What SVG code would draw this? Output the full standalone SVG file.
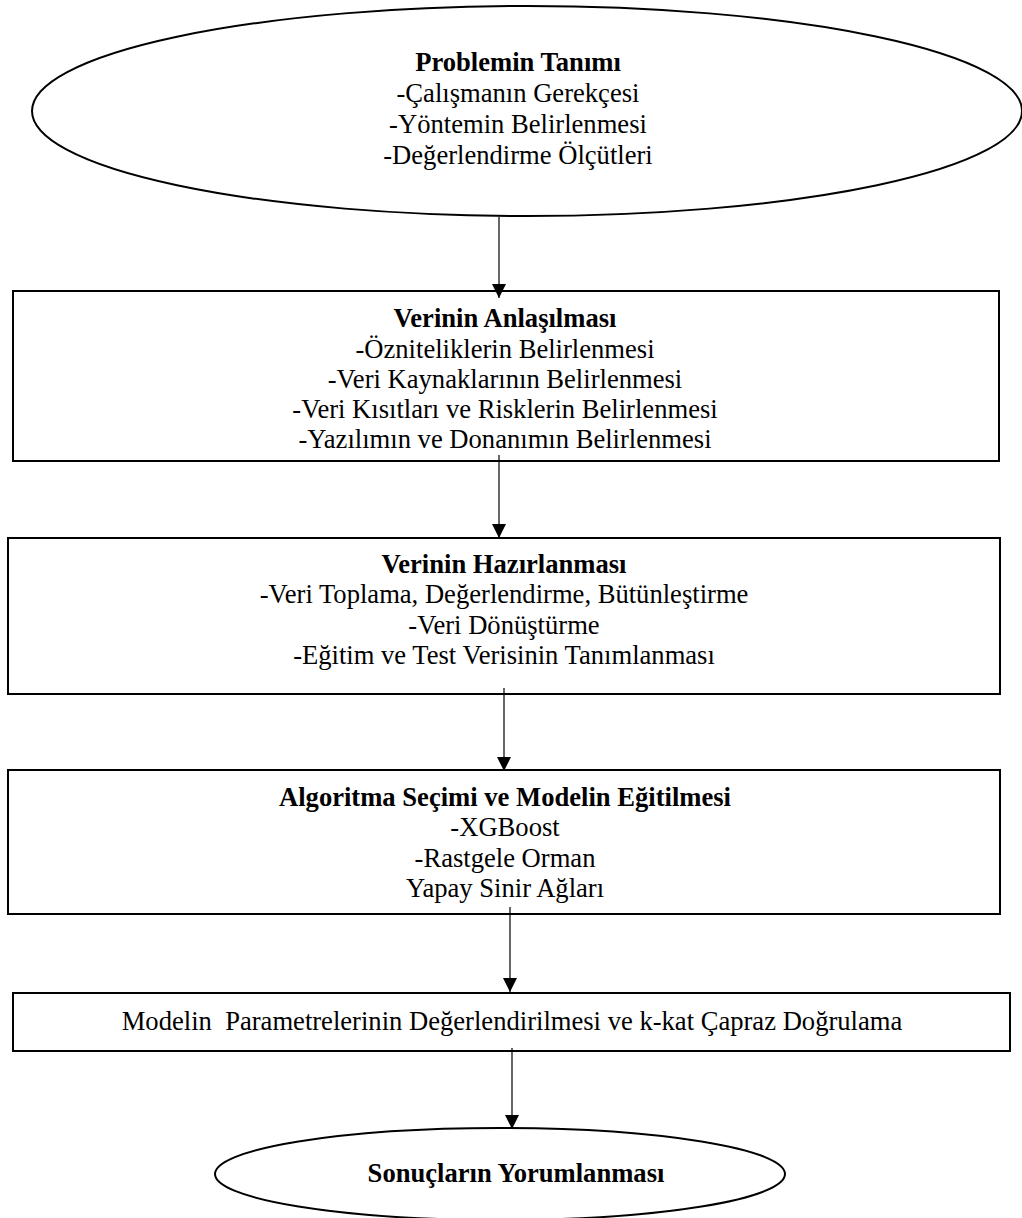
<svg xmlns="http://www.w3.org/2000/svg" width="1022" height="1218" viewBox="0 0 1022 1218">
  <defs>
    <marker id="arrow" markerUnits="userSpaceOnUse" markerWidth="15" markerHeight="14" refX="14" refY="7" orient="auto" viewBox="0 0 15 14">
      <path d="M0,0 L14,7 L0,14 Z" fill="#000"/>
    </marker>
  </defs>
  <style>
    .shape { fill: #fff; stroke: #000; stroke-width: 2; }
    .lbl { font-family: "Liberation Serif", "Times New Roman", serif; font-size: 26.6px; fill: #000; text-anchor: middle; }
    .ttl { font-weight: bold; }
    .edge { stroke: #000; stroke-width: 1.2; fill: none; }
  </style>
  <rect width="1022" height="1218" fill="#fff"/>

  <!-- flow nodes -->
  <g id="problem">
    <ellipse class="shape" cx="527" cy="111" rx="495" ry="105"/>
    <text class="lbl ttl" x="518" y="71">Problemin Tanımı</text>
    <text class="lbl" x="518" y="102">-Çalışmanın Gerekçesi</text>
    <text class="lbl" x="518" y="133">-Yöntemin Belirlenmesi</text>
    <text class="lbl" x="518" y="164">-Değerlendirme Ölçütleri</text>
  </g>

  <g id="understanding">
    <rect class="shape" x="13" y="291" width="986" height="170"/>
    <text class="lbl ttl" x="505" y="327">Verinin Anlaşılması</text>
    <text class="lbl" x="505" y="358">-Özniteliklerin Belirlenmesi</text>
    <text class="lbl" x="505" y="388">-Veri Kaynaklarının Belirlenmesi</text>
    <text class="lbl" x="505" y="418">-Veri Kısıtları ve Risklerin Belirlenmesi</text>
    <text class="lbl" x="505" y="448">-Yazılımın ve Donanımın Belirlenmesi</text>
  </g>

  <g id="preparation">
    <rect class="shape" x="8" y="538" width="992" height="156"/>
    <text class="lbl ttl" x="504" y="573">Verinin Hazırlanması</text>
    <text class="lbl" x="504" y="603">-Veri Toplama, Değerlendirme, Bütünleştirme</text>
    <text class="lbl" x="504" y="634">-Veri Dönüştürme</text>
    <text class="lbl" x="504" y="664">-Eğitim ve Test Verisinin Tanımlanması</text>
  </g>

  <g id="training">
    <rect class="shape" x="8" y="770" width="992" height="144"/>
    <text class="lbl ttl" x="505" y="806">Algoritma Seçimi ve Modelin Eğitilmesi</text>
    <text class="lbl" x="505" y="836">-XGBoost</text>
    <text class="lbl" x="505" y="867">-Rastgele Orman</text>
    <text class="lbl" x="505" y="897">Yapay Sinir Ağları</text>
  </g>

  <g id="evaluation">
    <rect class="shape" x="13" y="993" width="997" height="58"/>
    <text class="lbl" x="512" y="1030" xml:space="preserve">Modelin  Parametrelerinin Değerlendirilmesi ve k-kat Çapraz Doğrulama</text>
  </g>

  <g id="results">
    <ellipse class="shape" cx="500" cy="1174" rx="285" ry="46"/>
    <text class="lbl ttl" x="516" y="1182">Sonuçların Yorumlanması</text>
  </g>

  <!-- connectors -->
  <g id="connectors">
    <line class="edge" x1="499" y1="217" x2="499" y2="298" marker-end="url(#arrow)"/>
    <line class="edge" x1="499" y1="455" x2="499" y2="538" marker-end="url(#arrow)"/>
    <line class="edge" x1="504" y1="688" x2="504" y2="771" marker-end="url(#arrow)"/>
    <line class="edge" x1="510" y1="907" x2="510" y2="992" marker-end="url(#arrow)"/>
    <line class="edge" x1="512" y1="1048" x2="512" y2="1129" marker-end="url(#arrow)"/>
  </g>
</svg>
